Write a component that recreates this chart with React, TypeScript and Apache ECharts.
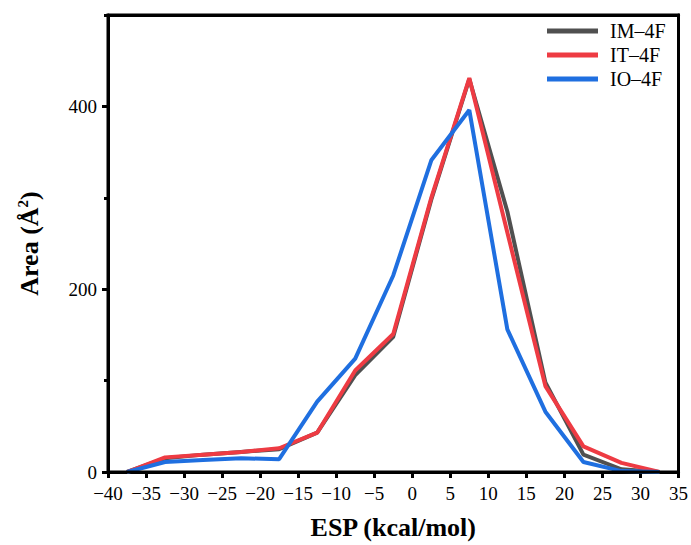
import React, { useEffect, useRef } from "react";
import * as echarts from "echarts";

const espBins = [-37.5, -32.5, -27.5, -22.5, -17.5, -12.5, -7.5, -2.5, 2.5, 7.5, 12.5, 17.5, 22.5, 27.5, 32.5];
const imArea = [0, 15, 19, 22, 25, 43, 106, 148, 298, 430, 285, 98, 19, 3, 0];
const itArea = [0, 16, 19, 22, 26, 43, 111, 151, 300, 431, 262, 94, 28, 10, 0];
const ioArea = [0, 11, 13, 15, 14, 77, 124, 215, 341, 396, 156, 66, 11, 1, 0];
const seriesNames = ["IM–4F", "IT–4F", "IO–4F"];
const seriesColors = ["#505050", "#ee3b43", "#1f6fe0"];
const xRange = [-40, 35];
const yRange = [0, 500];

const FONT = "'Liberation Serif', 'DejaVu Serif', serif";

export default function App() {
  const ref = useRef<HTMLDivElement>(null);
  useEffect(() => {
    if (!ref.current) return;
    document.body.style.margin = "0";
    const chart = echarts.init(ref.current, null, { renderer: "svg" });
    const all = [imArea, itArea, ioArea];
    chart.setOption({
      animation: false,
      backgroundColor: "#fff",
      grid: {
        left: 108,
        right: 11,
        top: 15,
        bottom: 72,
        show: true,
        borderColor: "#000000",
        borderWidth: 3,
        backgroundColor: "rgba(255,255,255,0)",
        z: 10,
      },
      legend: {
        orient: "vertical",
        left: 547,
        top: 21,
        padding: 0,
        icon: "rect",
        itemWidth: 51,
        itemHeight: 5,
        itemGap: 4,
        data: seriesNames,
        textStyle: { fontFamily: FONT, fontSize: 20, color: "#000", lineHeight: 20, padding: [0, 0, 0, 7] },
      },
      xAxis: [
        {
          type: "value",
          min: xRange[0],
          max: xRange[1],
          interval: 5,
          name: "ESP (kcal/mol)",
          nameLocation: "middle",
          nameGap: 42,
          nameTextStyle: { fontFamily: FONT, fontSize: 26, fontWeight: "bold", color: "#000" },
          splitLine: { show: false },
          axisLine: { show: true, onZero: false, lineStyle: { color: "#000", width: 3 } },
          axisTick: { show: true, inside: false, length: 6, lineStyle: { color: "#000", width: 3 } },
          axisLabel: {
            fontFamily: FONT,
            fontSize: 19,
            color: "#000",
            margin: 12,
            formatter: (v: number) => String(v).replace("-", "−"),
          },
        },
        {
          type: "value",
          min: xRange[0],
          max: xRange[1],
          interval: 5,
          position: "top",
          splitLine: { show: false },
          axisLine: { show: true, onZero: false, lineStyle: { color: "#000", width: 3 } },
          axisTick: { show: false },
          axisLabel: { show: false },
        },
      ],
      yAxis: [
        {
          type: "value",
          min: yRange[0],
          max: yRange[1],
          interval: 200,
          name: "Area (Å{sup|2})",
          nameLocation: "middle",
          nameGap: 64,
          nameTextStyle: {
            fontFamily: FONT,
            fontSize: 26,
            fontWeight: "bold",
            color: "#000",
            rich: {
              sup: { fontFamily: FONT, fontSize: 15, color: "#000", padding: [0, 0, 14, 0] },
            },
          },
          splitLine: { show: false },
          axisLine: { show: true, onZero: false, lineStyle: { color: "#000", width: 3 } },
          axisTick: { show: true, inside: false, length: 6, lineStyle: { color: "#000", width: 3 } },
          axisLabel: { fontFamily: FONT, fontSize: 19, color: "#000", margin: 11, showMaxLabel: false },
        },
        {
          type: "value",
          min: yRange[0],
          max: yRange[1],
          interval: 100,
          position: "left",
          splitLine: { show: false },
          axisLine: { show: false, onZero: false },
          axisTick: { show: true, inside: false, length: 4, lineStyle: { color: "#000", width: 3 } },
          axisLabel: { show: false },
        },
        {
          type: "value",
          min: yRange[0],
          max: yRange[1],
          interval: 100,
          position: "right",
          splitLine: { show: false },
          axisLine: { show: true, onZero: false, lineStyle: { color: "#000", width: 3 } },
          axisTick: { show: false },
          axisLabel: { show: false },
        },
      ],
      series: seriesNames.map((name, i) => ({
        name,
        type: "line",
        xAxisIndex: 0,
        yAxisIndex: 0,
        symbol: "none",
        z: 2 + i,
        data: espBins.map((x, j) => [x, all[i][j]]),
        lineStyle: { color: seriesColors[i], width: 4 },
        itemStyle: { color: seriesColors[i] },
      })),
    });
    return () => chart.dispose();
  }, []);
  return <div ref={ref} style={{ width: 691, height: 545 }} />;
}
